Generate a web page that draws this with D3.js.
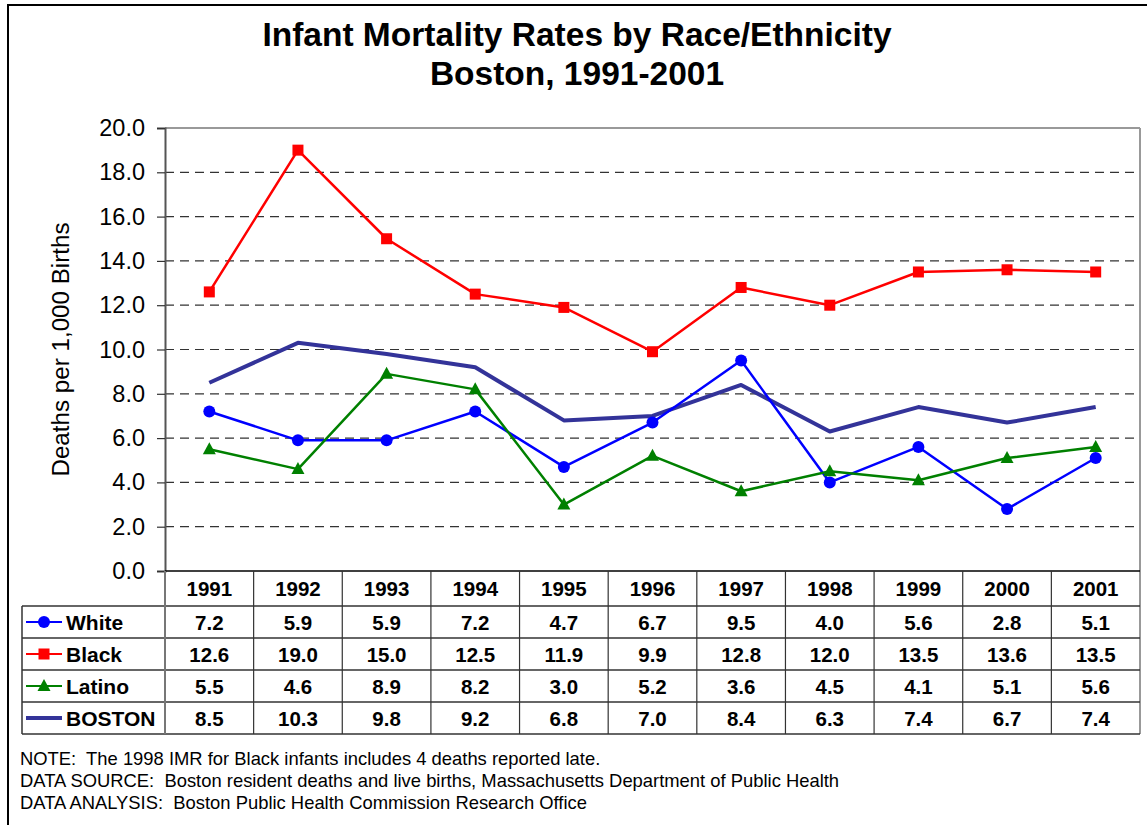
<!DOCTYPE html>
<html>
<head>
<meta charset="utf-8">
<script src="https://cdn.jsdelivr.net/npm/d3@7"></script>
<style>
  body { margin: 0; background: #fff; }
  svg { font-family: "Liberation Sans", Arial, sans-serif; }
  text { white-space: pre; }
</style>
</head>
<body>
<svg width="1147" height="825"></svg>
<script>
const years = ["1991", "1992", "1993", "1994", "1995", "1996", "1997", "1998", "1999", "2000", "2001"];
const white = [7.2, 5.9, 5.9, 7.2, 4.7, 6.7, 9.5, 4.0, 5.6, 2.8, 5.1];
const black = [12.6, 19.0, 15.0, 12.5, 11.9, 9.9, 12.8, 12.0, 13.5, 13.6, 13.5];
const latino = [5.5, 4.6, 8.9, 8.2, 3.0, 5.2, 3.6, 4.5, 4.1, 5.1, 5.6];
const boston = [8.5, 10.3, 9.8, 9.2, 6.8, 7.0, 8.4, 6.3, 7.4, 6.7, 7.4];
const yTicks = [0, 2, 4, 6, 8, 10, 12, 14, 16, 18, 20];
const notes = [
    "NOTE:  The 1998 IMR for Black infants includes 4 deaths reported late.",
    "DATA SOURCE:  Boston resident deaths and live births, Massachusetts Department of Public Health",
    "DATA ANALYSIS:  Boston Public Health Commission Research Office"
];

const series = [
    {name: "White", values: white, color: "#0000ff", width: 2.5, marker: "circle"},
    {name: "Black", values: black, color: "#ff0000", width: 2.5, marker: "square"},
    {name: "Latino", values: latino, color: "#008000", width: 2.5, marker: "triangle"},
    {name: "BOSTON", values: boston, color: "#333399", width: 4, marker: null}
];

const svg = d3.select("svg");

// outer frame
svg.append("rect")
    .attr("x", 8).attr("y", 5)
    .attr("width", 1150).attr("height", 830)
    .attr("fill", "none").attr("stroke", "#000").attr("stroke-width", 2);

// title
svg.append("text").attr("x", 577).attr("y", 46)
    .attr("text-anchor", "middle").attr("font-size", 33.5).attr("font-weight", "bold")
    .text("Infant Mortality Rates by Race/Ethnicity");
svg.append("text").attr("x", 577).attr("y", 85)
    .attr("text-anchor", "middle").attr("font-size", 33.5).attr("font-weight", "bold")
    .text("Boston, 1991-2001");

const plotLeft = 165, plotRight = 1140, plotTop = 128, plotBottom = 571;
const tableLeft = 22;
const rowEdges = [571, 606, 638, 670, 702, 734];

const x = d3.scaleBand().domain(years).range([plotLeft, plotRight]);
const y = d3.scaleLinear().domain([0, 20]).range([plotBottom, plotTop]);

// grid lines
svg.append("g")
    .selectAll("line")
    .data(yTicks.filter(t => t > 0 && t < 20))
    .join("line")
    .attr("x1", plotLeft).attr("x2", plotRight)
    .attr("y1", d => y(d)).attr("y2", d => y(d))
    .attr("stroke", "#333").attr("stroke-width", 1.2)
    .attr("stroke-dasharray", "9,6");

// plot border top/right
svg.append("line").attr("x1", plotLeft).attr("x2", plotRight).attr("y1", y(20)).attr("y2", y(20))
    .attr("stroke", "#999").attr("stroke-width", 2);
svg.append("line").attr("x1", plotRight).attr("x2", plotRight).attr("y1", y(20)).attr("y2", rowEdges[5])
    .attr("stroke", "#999").attr("stroke-width", 2);

// y axis
const yAxis = svg.append("g")
    .attr("transform", `translate(${plotLeft},0)`)
    .call(d3.axisLeft(y).tickValues(yTicks).tickFormat(d3.format(".1f")).tickSize(8).tickPadding(12));
yAxis.select(".domain").attr("stroke", "#555").attr("stroke-width", 2);
yAxis.selectAll(".tick line").attr("stroke", "#333").attr("stroke-width", 1.2);
yAxis.selectAll(".tick text")
    .attr("font-size", 23.5).attr("fill", "#000")
    .attr("font-family", "Liberation Sans, Arial, sans-serif");

svg.append("line").attr("x1", plotLeft).attr("x2", plotRight).attr("y1", plotBottom).attr("y2", plotBottom)
    .attr("stroke", "#000").attr("stroke-width", 1.5);

// y label
svg.append("text")
    .attr("transform", `translate(69,${(plotTop + plotBottom) / 2}) rotate(-90)`)
    .attr("text-anchor", "middle").attr("font-size", 24.2)
    .text("Deaths per 1,000 Births");

// lines and markers
const cx = d => x(d) + x.bandwidth() / 2;
const line = d3.line().x((v, i) => cx(years[i])).y(v => y(v));

function drawMarker(g, type, px, py, color) {
    if (type === "circle") {
        g.append("circle").attr("cx", px).attr("cy", py).attr("r", 6).attr("fill", color);
    } else if (type === "square") {
        g.append("rect").attr("x", px - 5.5).attr("y", py - 5.5)
            .attr("width", 11).attr("height", 11).attr("fill", color);
    } else if (type === "triangle") {
        g.append("path")
            .attr("d", `M${px},${py - 7}L${px + 6.5},${py + 5}L${px - 6.5},${py + 5}Z`)
            .attr("fill", color);
    }
}

const plot = svg.append("g");
[3, 0, 2, 1].forEach(k => {
    const s = series[k];
    plot.append("path")
        .attr("d", line(s.values))
        .attr("fill", "none").attr("stroke", s.color).attr("stroke-width", s.width)
        .attr("stroke-linejoin", "round");
    if (s.marker) {
        s.values.forEach((v, i) => drawMarker(plot, s.marker, cx(years[i]), y(v), s.color));
    }
});

// data table
const table = svg.append("g");
const gridColor = "#333";

rowEdges.slice(1).forEach(ry => {
    table.append("line").attr("x1", tableLeft).attr("x2", plotRight).attr("y1", ry).attr("y2", ry)
        .attr("stroke", gridColor).attr("stroke-width", 1.5);
});
table.append("line").attr("x1", tableLeft).attr("x2", tableLeft)
    .attr("y1", rowEdges[1]).attr("y2", rowEdges[5]).attr("stroke", gridColor).attr("stroke-width", 1.5);
table.append("line").attr("x1", plotLeft).attr("x2", plotLeft)
    .attr("y1", rowEdges[0]).attr("y2", rowEdges[5]).attr("stroke", "#777").attr("stroke-width", 2);
years.slice(1).forEach(yr => {
    table.append("line").attr("x1", x(yr)).attr("x2", x(yr))
        .attr("y1", rowEdges[0]).attr("y2", rowEdges[5]).attr("stroke", gridColor).attr("stroke-width", 1.2);
});

// header
years.forEach(yr => {
    table.append("text").attr("x", cx(yr)).attr("y", (rowEdges[0] + rowEdges[1]) / 2 + 7.5)
        .attr("text-anchor", "middle").attr("font-size", 20.5).attr("font-weight", "bold")
        .text(yr);
});

// rows
series.forEach((s, k) => {
    const midY = (rowEdges[k + 1] + rowEdges[k + 2]) / 2;
    table.append("line").attr("x1", 26).attr("x2", 62).attr("y1", midY).attr("y2", midY)
        .attr("stroke", s.color).attr("stroke-width", s.marker ? 2 : 4);
    if (s.marker) drawMarker(table, s.marker, 44, midY, s.color);
    table.append("text").attr("x", 66).attr("y", midY + 8)
        .attr("font-size", 21).attr("font-weight", "bold").text(s.name);
    s.values.forEach((v, i) => {
        table.append("text").attr("x", cx(years[i])).attr("y", midY + 8)
            .attr("text-anchor", "middle").attr("font-size", 20.5).attr("font-weight", "bold")
            .text(v.toFixed(1));
    });
});

// notes
notes.forEach((t, i) => {
    svg.append("text").attr("x", 20).attr("y", 765 + i * 22)
        .attr("font-size", 18.4).text(t);
});
</script>
</body>
</html>
